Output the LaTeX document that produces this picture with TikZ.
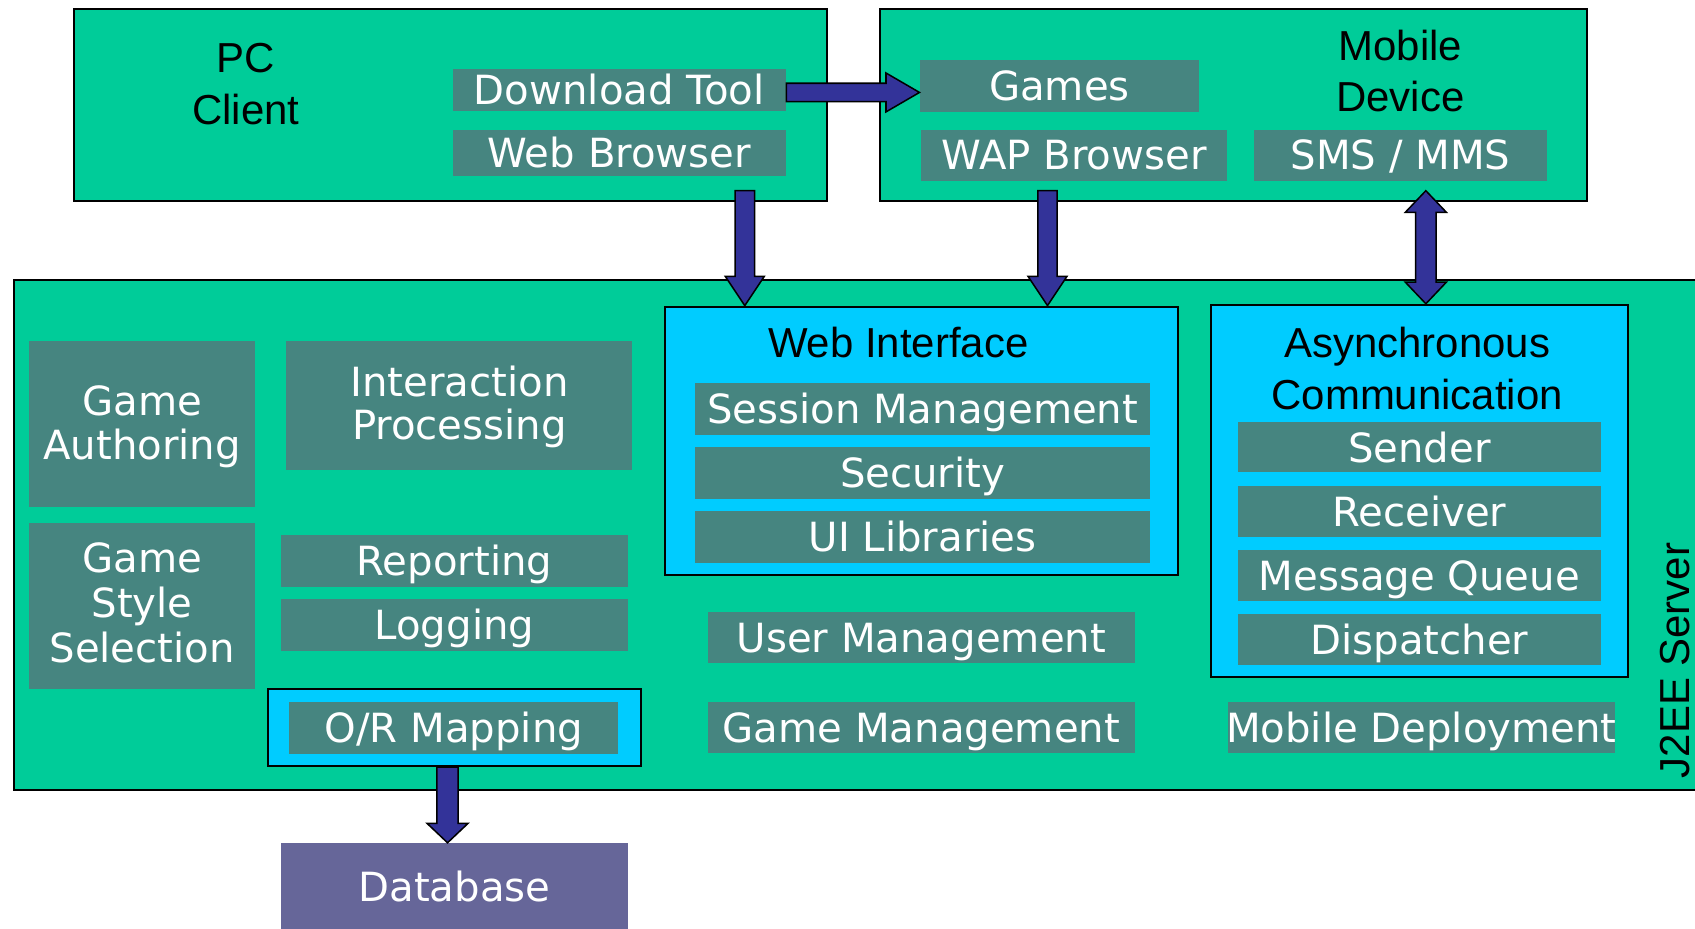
\documentclass[tikz,border=0pt]{standalone}
\usepackage{fontspec}
\setmainfont{Liberation Sans}
\newfontfamily\dvsans{DejaVu Sans}
\usetikzlibrary{fit,calc}
\definecolor{bggreen}{HTML}{00CC99}
\definecolor{dkteal}{HTML}{468580}
\definecolor{cyanbox}{HTML}{00CCFF}
\definecolor{arrblue}{HTML}{333399}
\definecolor{dbpurple}{HTML}{666699}
\begin{document}
\begin{tikzpicture}[x=0.5pt,y=-0.5pt,
  outer/.style={draw=black,line width=1pt,fill=bggreen,inner sep=0pt},
  inbox/.style={draw=black,line width=1pt,fill=cyanbox,inner sep=0pt},
  comp/.style={fill=dkteal,inner sep=0pt},
  lab/.style={inner sep=0pt,text=white,font=\dvsans\fontsize{18.6pt}{20pt}\selectfont,text height=13.6pt,text depth=0pt,anchor=center},
  compline/.style={inner sep=0pt,text=white,font=\dvsans\fontsize{18.6pt}{20pt}\selectfont,anchor=base},
  title/.style={inner sep=0pt,text=black,font=\fontsize{19.4pt}{22pt}\selectfont,anchor=base},
  arr/.style={draw=black,line width=0.7pt,fill=arrblue,line join=miter},
]
\useasboundingbox (0,0) rectangle (1568,859);
% outer containers
\node[outer,fit={(13.2,259) (1590,730.8)}] (j2ee) {};
\node[outer,fit={(68.7,8.3) (764.7,185.6)}] (pc) {};
\node[outer,fit={(813.7,8.3) (1467.7,185.6)}] (mob) {};
% PC client
\node[title] (pct1) at (227.5,67.2) {PC};
\node[title] (pct2) at (227.5,115) {Client};
\node[comp,fit={(418.7,64.1) (727,102.4)}] (dl) {};
\node[lab] (dlt) at (dl.center) {Download Tool};
\node[comp,fit={(418.7,120.3) (727,162.5)}] (wb) {};
\node[lab] (wbt) at (wb.center) {Web Browser};
% Mobile device
\node[title] (mt1) at (1295.5,56.4) {Mobile};
\node[title] (mt2) at (1295.5,102.7) {Device};
\node[comp,fit={(851,55.8) (1109,103.3)}] (games) {};
\node[lab] (gamest) at (games.center) {Games};
\node[comp,fit={(852,120.3) (1135,167)}] (wap) {};
\node[lab] (wapt) at (wap.center) {WAP Browser};
\node[comp,fit={(1160,120.3) (1431,167)}] (sms) {};
\node[lab] (smst) at (sms.center) {SMS / MMS};
% J2EE server contents
\node[comp,fit={(26.8,315.5) (236,469)}] (ga) {};
\node[compline] (ga1) at (131.5,384) {Game};
\node[compline] (ga2) at (131.5,425) {Authoring};
\node[comp,fit={(264.7,315.5) (585,434.5)}] (ip) {};
\node[compline] (ip1) at (425,367) {Interaction};
\node[compline] (ip2) at (425,407) {Processing};
\node[comp,fit={(26.8,484) (236,637)}] (gs) {};
\node[compline] (gs1) at (131.5,530) {Game};
\node[compline] (gs2) at (131.5,571) {Style};
\node[compline] (gs3) at (131.5,613) {Selection};
\node[comp,fit={(260,495) (580.7,542.7)}] (rep) {};
\node[lab] (rept) at (rep.center) {Reporting};
\node[comp,fit={(260,554.4) (580.7,602)}] (log) {};
\node[lab] (logt) at (log.center) {Logging};
\node[inbox,fit={(247.6,637.7) (593,708.6)}] (ormo) {};
\node[comp,fit={(267.6,649.7) (572,697.2)}] (orm) {};
\node[lab] (ormt) at (orm.center) {O/R Mapping};
% Web interface
\node[inbox,fit={(615,283.7) (1090,532)}] (webif) {};
\node[title] (wit) at (831,330.6) {Web Interface};
\node[comp,fit={(643,354.6) (1064,402)}] (sess) {};
\node[lab] (sesst) at (sess.center) {Session Management};
\node[comp,fit={(643,413.8) (1064,461.3)}] (sec) {};
\node[lab] (sect) at (sec.center) {Security};
\node[comp,fit={(643,473) (1064,520.5)}] (uil) {};
\node[lab] (uilt) at (uil.center) {UI Libraries};
\node[comp,fit={(655,566) (1049.7,613.6)}] (um) {};
\node[lab] (umt) at (um.center) {User Management};
\node[comp,fit={(655,649.4) (1049.7,697)}] (gm) {};
\node[lab] (gmt) at (gm.center) {Game Management};
% Asynchronous communication
\node[inbox,fit={(1120.6,282) (1506,626)}] (async) {};
\node[title] (at1) at (1311,331) {Asynchronous};
\node[title] (at2) at (1311,378.7) {Communication};
\node[comp,fit={(1145,390.7) (1481,437)}] (snd) {};
\node[lab] (sndt) at (snd.center) {Sender};
\node[comp,fit={(1145,450) (1481,496.5)}] (rcv) {};
\node[lab] (rcvt) at (rcv.center) {Receiver};
\node[comp,fit={(1145,509) (1481,555.7)}] (mq) {};
\node[lab] (mqt) at (mq.center) {Message Queue};
\node[comp,fit={(1145,568.3) (1481,614.9)}] (disp) {};
\node[lab] (dispt) at (disp.center) {Dispatcher};
\node[comp,fit={(1136,649.4) (1493.7,697)}] (md) {};
\node[lab] (mdt) at (md.center) {Mobile Deployment};
\node[title,rotate=90] (j2t) at (1563,611) {J2EE Server};
% database
\node[fill=dbpurple,inner sep=0pt,fit={(260,780) (580.7,860)}] (db) {};
\node[lab] (dbt) at (db.center) {Database};
% arrows
\coordinate (a1) at (689,176.4);
\coordinate (a2) at (969,176.4);
\coordinate (a3) at (1319,176.4);
\coordinate (a4) at (0,85.5);
\coordinate (a5) at (414,0);
\draw[arr] let \p1=(a1), \p2=(a1 |- webif.north) in
  (\x1-4.5pt,\y1) -- (\x1+4.5pt,\y1) -- (\x1+4.5pt,\y2+13.5pt) -- (\x1+9pt,\y2+13.5pt) -- (\x1,\y2) -- (\x1-9pt,\y2+13.5pt) -- (\x1-4.5pt,\y2+13.5pt) -- cycle;
\draw[arr] let \p1=(a2), \p2=(a2 |- webif.north) in
  (\x1-4.5pt,\y1) -- (\x1+4.5pt,\y1) -- (\x1+4.5pt,\y2+13.5pt) -- (\x1+9pt,\y2+13.5pt) -- (\x1,\y2) -- (\x1-9pt,\y2+13.5pt) -- (\x1-4.5pt,\y2+13.5pt) -- cycle;
\draw[arr] let \p1=(a3), \p2=(a3 |- async.north) in
  (\x1,\y1) -- (\x1+9.5pt,\y1-10pt) -- (\x1+4.75pt,\y1-10pt) -- (\x1+4.75pt,\y2+10pt) -- (\x1+9.5pt,\y2+10pt) -- (\x1,\y2) -- (\x1-9.5pt,\y2+10pt) -- (\x1-4.75pt,\y2+10pt) -- (\x1-4.75pt,\y1-10pt) -- (\x1-9.5pt,\y1-10pt) -- cycle;
\draw[arr] let \p1=(dl.east |- a4), \p2=(games.west |- a4) in
  (\x1,\y1+4.25pt) -- (\x2-15.5pt,\y1+4.25pt) -- (\x2-15.5pt,\y1+9pt) -- (\x2,\y1) -- (\x2-15.5pt,\y1-9pt) -- (\x2-15.5pt,\y1-4.25pt) -- (\x1,\y1-4.25pt) -- cycle;
\draw[arr] let \p1=(a5 |- ormo.south), \p2=(a5 |- db.north) in
  (\x1-4.9pt,\y1) -- (\x1+4.9pt,\y1) -- (\x1+4.9pt,\y2+9pt) -- (\x1+9.5pt,\y2+9pt) -- (\x1,\y2) -- (\x1-9.5pt,\y2+9pt) -- (\x1-4.9pt,\y2+9pt) -- cycle;
\end{tikzpicture}
\end{document}
